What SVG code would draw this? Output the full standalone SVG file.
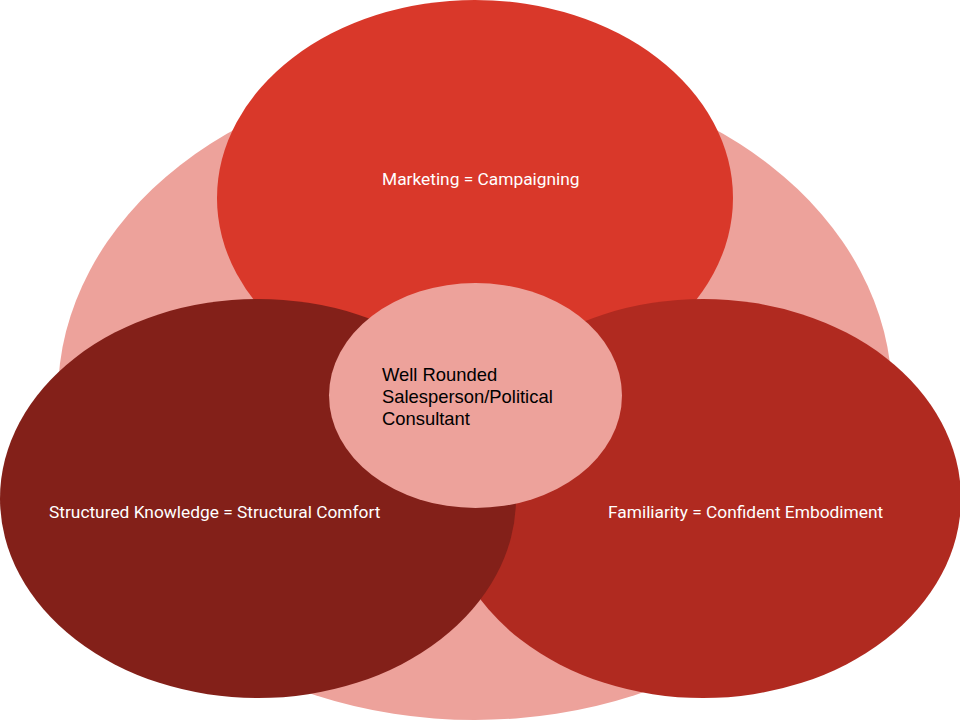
<svg xmlns="http://www.w3.org/2000/svg" width="960" height="720" viewBox="0 0 960 720">
<style>
.lbl{font-family:Roboto,"Liberation Sans",sans-serif;font-size:17.33px;fill:#ffffff}
.ctr{font-family:"Liberation Sans",Arial,sans-serif;font-size:18.4px;fill:#000000}
</style>
<rect width="960" height="720" fill="#ffffff"/>
<g id="background">
<ellipse cx="475" cy="395" rx="417" ry="325" fill="#EDA29B"/>
</g>
<g id="marketing">
<ellipse cx="475" cy="198" rx="258" ry="198" fill="#D9382A"/>
<text class="lbl" x="382" y="185">Marketing = Campaigning</text>
</g>
<g id="familiarity">
<ellipse cx="703" cy="498.5" rx="258" ry="199.5" fill="#B02A20"/>
<text class="lbl" x="608" y="518">Familiarity = Confident Embodiment</text>
</g>
<g id="structured">
<ellipse cx="258" cy="498.5" rx="258" ry="199.5" fill="#832019"/>
<text class="lbl" x="49" y="518">Structured Knowledge = Structural Comfort</text>
</g>
<g id="center">
<ellipse cx="475.5" cy="395.5" rx="146.5" ry="112.5" fill="#EDA29B"/>
<text class="ctr" x="382" y="381">Well Rounded</text>
<text class="ctr" x="382" y="403">Salesperson/Political</text>
<text class="ctr" x="382" y="425">Consultant</text>
</g>
<g id="connectors"/>
</svg>
